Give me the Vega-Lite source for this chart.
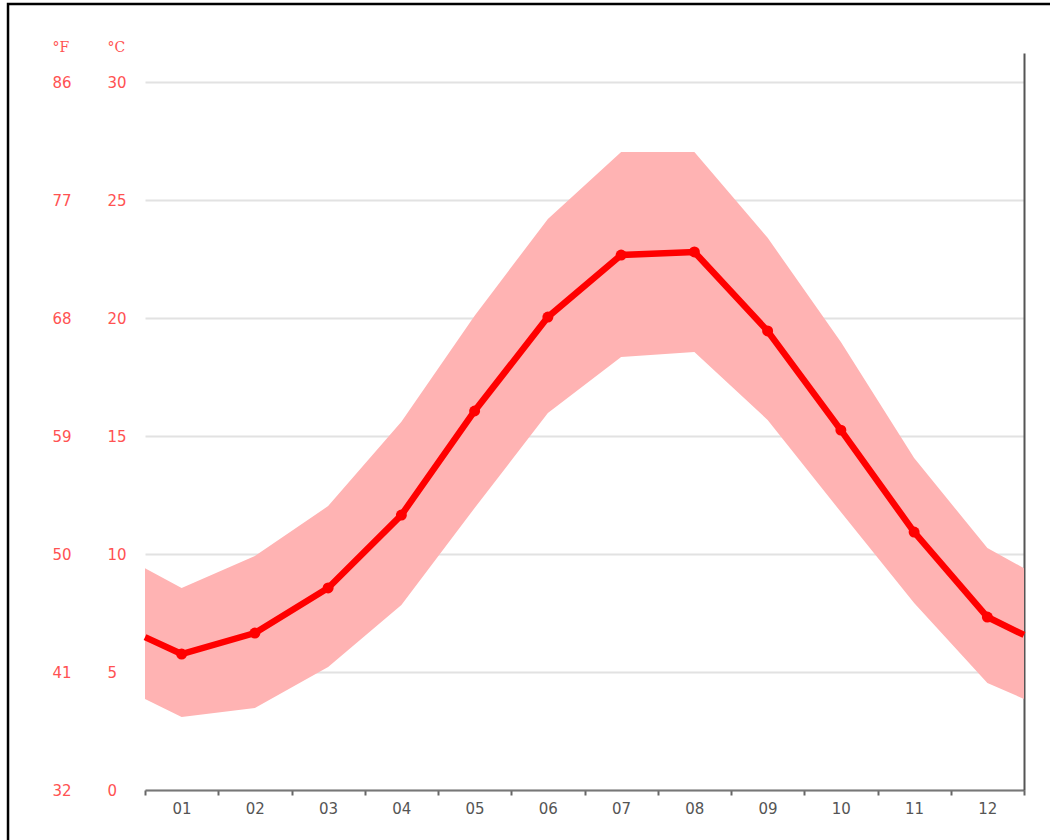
{
  "$schema": "https://vega.github.io/schema/vega-lite/v6.json",
  "width": 879,
  "height": 737,
  "autosize": "none",
  "padding": {"left": 145, "top": 53, "right": 26, "bottom": 50},
  "background": "white",
  "config": {"view": {"stroke": null}},
  "data": {
    "values": [
      {"m": 0.5, "t": 6.48, "lo": 3.86, "hi": 9.4, "pt": false},
      {"m": 1, "t": 5.76, "lo": 3.09, "hi": 8.56, "pt": true},
      {"m": 2, "t": 6.65, "lo": 3.47, "hi": 9.92, "pt": true},
      {"m": 3, "t": 8.56, "lo": 5.21, "hi": 12.03, "pt": true},
      {"m": 4, "t": 11.65, "lo": 7.84, "hi": 15.6, "pt": true},
      {"m": 5, "t": 16.06, "lo": 11.95, "hi": 20.1, "pt": true},
      {"m": 6, "t": 20.04, "lo": 15.97, "hi": 24.2, "pt": true},
      {"m": 7, "t": 22.67, "lo": 18.35, "hi": 27.03, "pt": true},
      {"m": 8, "t": 22.8, "lo": 18.56, "hi": 27.03, "pt": true},
      {"m": 9, "t": 19.45, "lo": 15.68, "hi": 23.4, "pt": true},
      {"m": 10, "t": 15.25, "lo": 11.78, "hi": 18.98, "pt": true},
      {"m": 11, "t": 10.93, "lo": 7.92, "hi": 14.07, "pt": true},
      {"m": 12, "t": 7.33, "lo": 4.53, "hi": 10.25, "pt": true},
      {"m": 12.5, "t": 6.57, "lo": 3.86, "hi": 9.4, "pt": false}
    ]
  },
  "encoding": {
    "x": {
      "field": "m",
      "type": "quantitative",
      "scale": {"domain": [0.5, 12.5], "nice": false, "zero": false},
      "axis": {
        "title": null,
        "values": [0.5, 1.5, 2.5, 3.5, 4.5, 5.5, 6.5, 7.5, 8.5, 9.5, 10.5, 11.5, 12.5],
        "labelExpr": "datum.value < 12 ? ((datum.value + 0.5 < 10 ? '0' : '') + (datum.value + 0.5)) : ''",
        "labelOffset": 36.6,
        "labelFlush": false,
        "labelOverlap": false,
        "labelBound": false,
        "labelFont": "DejaVu Sans",
        "labelFontSize": 15,
        "labelColor": "#555555",
        "labelPadding": 6,
        "tickSize": 5,
        "tickWidth": 2,
        "tickColor": "#666666",
        "domainColor": "#777777",
        "domainWidth": 2,
        "grid": false
      }
    }
  },
  "layer": [
    {
      "layer": [
        {
          "mark": {"type": "area", "color": "#ffb3b3", "opacity": 1},
          "encoding": {
            "y": {
              "field": "lo",
              "type": "quantitative",
              "scale": {"domain": [0, 31.23], "nice": false, "zero": false},
              "axis": {
                "orient": "left",
                "title": "°C",
                "titleAngle": 0,
                "titleAlign": "left",
                "titleBaseline": "middle",
                "titleX": -38,
                "titleY": -6,
                "titleFont": "DejaVu Serif",
                "titleFontSize": 14,
                "titleFontWeight": "normal",
                "titleColor": "#ff5252",
                "values": [0, 5, 10, 15, 20, 25, 30],
                "labelAlign": "left",
                "labelPadding": 38,
                "labelFont": "DejaVu Sans",
                "labelFontSize": 15,
                "labelColor": "#ff5252",
                "ticks": false,
                "domain": false,
                "grid": true,
                "gridColor": "#e2e2e2",
                "gridWidth": 2
              }
            },
            "y2": {"field": "hi"}
          }
        },
        {
          "data": {"values": [{"x1": -1.37, "x2": 14, "y1": 33.31, "y2": -3}]},
          "mark": {"type": "rect", "fill": null, "filled": false, "stroke": "#000000", "strokeWidth": 2.5, "clip": false},
          "encoding": {
            "x": {"field": "x1", "type": "quantitative"},
            "x2": {"field": "x2"},
            "y": {"field": "y1", "type": "quantitative"},
            "y2": {"field": "y2"}
          }
        }
      ]
    },
    {
      "mark": {"type": "line", "color": "#ff0000", "strokeWidth": 6.5},
      "encoding": {
        "y": {
          "field": "t",
          "type": "quantitative",
          "scale": {"domain": [0, 31.23], "nice": false, "zero": false},
          "axis": {
            "orient": "left",
            "title": "°F",
            "titleAngle": 0,
            "titleAlign": "left",
            "titleBaseline": "middle",
            "titleX": -93,
            "titleY": -6,
            "titleFont": "DejaVu Serif",
            "titleFontSize": 14,
            "titleFontWeight": "normal",
            "titleColor": "#ff5252",
            "values": [0, 5, 10, 15, 20, 25, 30],
            "labelExpr": "format(datum.value * 1.8 + 32, 'd')",
            "labelAlign": "left",
            "labelPadding": 93,
            "labelFont": "DejaVu Sans",
            "labelFontSize": 15,
            "labelColor": "#ff5252",
            "ticks": false,
            "domain": false,
            "grid": false
          }
        }
      }
    },
    {
      "transform": [{"filter": "datum.pt"}],
      "mark": {"type": "circle", "color": "#ff0000", "size": 120, "opacity": 1},
      "encoding": {
        "y": {
          "field": "t",
          "type": "quantitative",
          "scale": {"domain": [0, 31.23], "nice": false, "zero": false},
          "axis": {
            "orient": "right",
            "title": null,
            "labels": false,
            "ticks": false,
            "grid": false,
            "domain": true,
            "domainColor": "#555555",
            "domainWidth": 2
          }
        }
      }
    }
  ],
  "resolve": {"scale": {"y": "independent"}, "axis": {"y": "independent"}}
}
